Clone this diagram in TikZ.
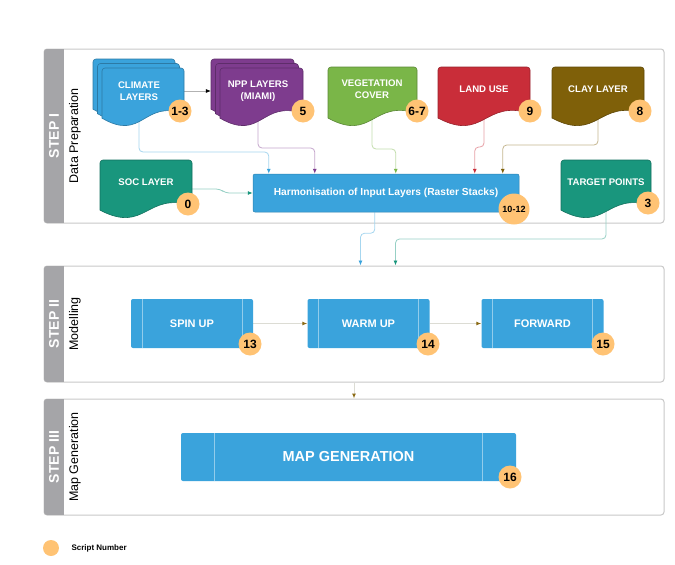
\documentclass[tikz,border=0pt]{standalone}
\usepackage{fontspec}
\setmainfont{Liberation Sans}
\usetikzlibrary{arrows.meta,calc}
\pgfdeclarelayer{bg}
\pgfdeclarelayer{conn}
\pgfsetlayers{bg,conn,main}
\definecolor{cblue}{HTML}{3AA3DC}
\definecolor{cpurple}{HTML}{7E3C8E}
\definecolor{cgreen}{HTML}{7AB648}
\definecolor{cred}{HTML}{C92D39}
\definecolor{cbrown}{HTML}{7F6009}
\definecolor{cteal}{HTML}{19967D}
\definecolor{corange}{HTML}{FFC374}
\definecolor{cgray}{HTML}{A5A5A8}
\definecolor{cborder}{HTML}{C8C8C8}
\definecolor{carrow}{HTML}{8B6A14}
\definecolor{cline}{HTML}{DCDCD4}
% L T R B colour name
\newcommand{\docshape}[6]{%
  \pgfmathsetmacro\dw{#3-#1}\pgfmathsetmacro\dh{#4-#2}%
  \pgfmathsetmacro\yl{#4-0.12*\dh}\pgfmathsetmacro\yr{#4-0.2*\dh}%
  \pgfmathsetmacro\cxa{#3-0.5*\dw}\pgfmathsetmacro\cya{#4-0.45*\dh}%
  \pgfmathsetmacro\cxb{#1+0.5*\dw}\pgfmathsetmacro\cyb{#4+0.3*\dh}%
  \pgfmathsetmacro\ccx{(#1+#3)/2}\pgfmathsetmacro\ccy{(#2+#4)/2}%
  \filldraw[fill=#5, draw=#5!75!black, line width=0.6pt]
    (#1,\yl) [rounded corners=3pt] -- (#1,#2) -- (#3,#2) [sharp corners] -- (#3,\yr)
    .. controls (\cxa,\cya) and (\cxb,\cyb) .. (#1,\yl) -- cycle;
  \node[inner sep=0pt, minimum width=\dw pt, minimum height=\dh pt] (#6) at (\ccx,\ccy) {};}
\tikzset{
  panel/.style={draw=cborder, line width=1pt, fill=white, rounded corners=3pt, inner sep=0pt},
  steplabel/.style={rotate=90, text=white, font=\bfseries\fontsize{14}{14}\selectfont},
  sublabel/.style={rotate=90, text=black, font=\fontsize{12.5}{13}\selectfont},
  doctext/.style={text=white, align=center, font=\bfseries\fontsize{9.6}{12}\selectfont},
  badge/.style={circle, fill=corange, inner sep=0pt, minimum size=23pt, text=black,
    font=\bfseries\fontsize{12}{12}\selectfont},
  proc/.style={fill=cblue, rounded corners=2pt, inner sep=0pt, text=white,
    font=\bfseries\fontsize{11}{11}\selectfont},
  procline/.style={draw=white, draw opacity=0.45, line width=0.5pt},
  conn/.style={draw=#1!45, line width=0.8pt, rounded corners=4pt,
    -{Latex[length=5pt,width=4pt,color=#1]}},
  flow/.style={draw=cline, line width=1pt, -{Latex[length=5pt,width=4pt,color=carrow]}},
}
\begin{document}
\begin{tikzpicture}[x=1pt,y=-1pt]
\useasboundingbox (0,0) rectangle (675,565);
% panels
\begin{pgfonlayer}{bg}
\node[panel, minimum width=620pt, minimum height=174pt] (p1) at (354,136) {};
\node[panel, minimum width=620pt, minimum height=116pt] (p2) at (354,324) {};
\node[panel, minimum width=620pt, minimum height=116pt] (p3) at (354,457) {};
\begin{scope}
\clip[rounded corners=3pt] (44,49) rectangle (664,223);
\fill[cgray] (44,49) rectangle (64,223);
\end{scope}
\begin{scope}
\clip[rounded corners=3pt] (44,266) rectangle (664,382);
\fill[cgray] (44,266) rectangle (64,382);
\end{scope}
\begin{scope}
\clip[rounded corners=3pt] (44,399) rectangle (664,515);
\fill[cgray] (44,399) rectangle (64,515);
\end{scope}
\end{pgfonlayer}
\node[steplabel] (s1) at (54,136) {STEP I};
\node[sublabel] (d1) at (75,136) {Data Preparation};
\node[steplabel] (s2) at (54,324) {STEP II};
\node[sublabel] (d2) at (75,324) {Modelling};
\node[steplabel] (s3) at (54,457) {STEP III};
\node[sublabel] (d3) at (75,457) {Map Generation};
% documents
\docshape{93}{59}{175}{116}{cblue}{climB}
\docshape{97.5}{63.5}{179.5}{120.5}{cblue}{climM}
\docshape{102}{68}{184}{125}{cblue}{climD}
\docshape{211}{59}{294}{116}{cpurple}{nppB}
\docshape{215.5}{63.5}{298.5}{120.5}{cpurple}{nppM}
\docshape{220}{68}{303}{125}{cpurple}{nppD}
\docshape{328}{67}{417}{125}{cgreen}{vegD}
\docshape{438}{67}{530}{125}{cred}{landD}
\docshape{552}{67}{644}{125}{cbrown}{clayD}
\docshape{100}{160}{192}{217}{cteal}{socD}
\docshape{561}{160}{651}{217}{cteal}{targD}
\node[doctext] (clim) at (139,91) {CLIMATE\\LAYERS};
\node[doctext] (npp) at (258,91) {NPP LAYERS\\(MIAMI)};
\node[doctext] (veg) at (372,89) {VEGETATION\\COVER};
\node[doctext] (land) at (484,89) {LAND USE};
\node[doctext] (clay) at (598,89) {CLAY LAYER};
\node[doctext] (soc) at (146,182) {SOC LAYER};
\node[doctext] (targ) at (606,182) {TARGET POINTS};
% harmonisation
\node[proc, minimum width=266pt, minimum height=38pt, font=\bfseries\fontsize{10.2}{10}\selectfont,
  draw=cblue!80!black, line width=0.5pt] (harm) at (386,193) {Harmonisation of Input Layers (Raster Stacks)};
% process boxes
\node[proc, minimum width=122pt, minimum height=49pt] (spin) at (192,323.5) {SPIN UP};
\node[proc, minimum width=122pt, minimum height=49pt] (warm) at (368.5,323.5) {WARM UP};
\node[proc, minimum width=122pt, minimum height=49pt] (fwd) at (542.5,323.5) {FORWARD};
\node[proc, minimum width=335pt, minimum height=48pt, font=\bfseries\fontsize{14.5}{14.5}\selectfont] (map) at (348.5,457) {MAP GENERATION};
\foreach \b in {spin,warm,fwd}{
  \draw[procline] ($(\b.north west)+(11,0)$) -- ($(\b.south west)+(11,0)$);
  \draw[procline] ($(\b.north east)+(-11,0)$) -- ($(\b.south east)+(-11,0)$);
}
\draw[procline] ($(map.north west)+(33,0)$) -- ($(map.south west)+(33,0)$);
\draw[procline] ($(map.north east)+(-34,0)$) -- ($(map.south east)+(-34,0)$);
% badges
\node[badge] (b1) at (180,111) {1-3};
\node[badge] (b2) at (303,111) {5};
\node[badge] (b3) at (417,111) {6-7};
\node[badge] (b4) at (530,111) {9};
\node[badge] (b5) at (640,111) {8};
\node[badge] (b6) at (188,204) {0};
\node[badge] (b7) at (648,203) {3};
\node[badge, minimum size=31pt, font=\bfseries\fontsize{9}{9}\selectfont] (b8) at (514,209) {10-12};
\node[badge] (b9) at (250,344) {13};
\node[badge] (b10) at (428,344) {14};
\node[badge] (b11) at (603,344) {15};
\node[badge] (b12) at (510,477) {16};
% legend
\node[badge, minimum size=16pt] (leg) at (51,548) {};
\node[anchor=west, font=\bfseries\fontsize{8}{8}\selectfont] (legt) at (68,548) {Script Number};
% connectors
\begin{pgfonlayer}{conn}
\draw[line width=0.6pt, draw=gray!60, -{Latex[length=5pt,width=4pt,color=black]}] (climD.east |- clim) -- (nppB.west |- clim);
\draw[conn=cblue] (clim) -- (clim |- 0,152) -| ($(harm.north west)+(16,0)$);
\draw[conn=cpurple] (npp) -- (npp |- 0,148) -| ($(harm.north west)+(62,0)$);
\draw[conn=cgreen] (veg) -- (veg |- 0,149) -| ($(harm.north west)+(143,0)$);
\draw[conn=cred] (land) -- (land |- 0,147) -| ($(harm.north west)+(222,0)$);
\draw[conn=cbrown] (clay) -- (clay |- 0,145) -| ($(harm.north west)+(250,0)$);
\draw[conn=cteal] (socD.east |- 0,189) -- ++(28,0) -- ++(5,4) -- (harm.west);
\draw[conn=cblue] ($(harm.south west)+(122,0)$) -- ++(0,21) -| ($(p2.north west)+(317,0)$);
\draw[conn=cteal] (targ) -- (targ |- 0,239) -| ($(p2.north west)+(352,0)$);
\draw[flow] (spin.east) -- (warm.west);
\draw[flow] (warm.east) -- (fwd.west);
\draw[flow] (p2.south) -- (p3.north);
\end{pgfonlayer}
\end{tikzpicture}
\end{document}
